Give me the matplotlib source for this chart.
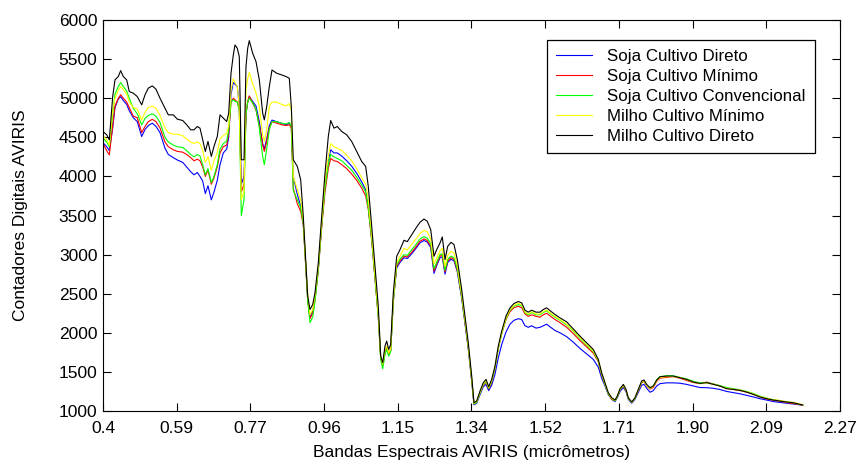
import matplotlib
matplotlib.use("Agg")
import matplotlib.pyplot as plt
import numpy as np

plt.rcParams['font.family'] = ['Liberation Sans', 'DejaVu Sans']

wavelength = [
    0.4000, 0.4094, 0.4160, 0.4246, 0.4304, 0.4388, 0.4449, 0.4515, 0.4601, 0.4667,
    0.4769, 0.4870, 0.4982, 0.5066, 0.5149, 0.5251, 0.5345, 0.5446, 0.5573, 0.5657,
    0.5784, 0.5885, 0.6022, 0.6124, 0.6225, 0.6309, 0.6393, 0.6461, 0.6530, 0.6596,
    0.6664, 0.6748, 0.6816, 0.6900, 0.6969, 0.7052, 0.7139, 0.7189, 0.7248, 0.7306,
    0.7349, 0.7408, 0.7458, 0.7509, 0.7578, 0.7628, 0.7671, 0.7712, 0.7798, 0.7882,
    0.7966, 0.8052, 0.8093, 0.8154, 0.8220, 0.8288, 0.8407, 0.8534, 0.8643, 0.8727,
    0.8778, 0.8828, 0.8930, 0.9016, 0.9082, 0.9143, 0.9194, 0.9252, 0.9321, 0.9379,
    0.9463, 0.9549, 0.9633, 0.9717, 0.9777, 0.9861, 0.9945, 1.0057, 1.0183, 1.0310,
    1.0437, 1.0564, 1.0665, 1.0731, 1.0818, 1.0901, 1.0985, 1.1046, 1.1097, 1.1155,
    1.1198, 1.1249, 1.1300, 1.1366, 1.1452, 1.1536, 1.1637, 1.1721, 1.1833, 1.1942,
    1.2043, 1.2145, 1.2228, 1.2315, 1.2398, 1.2467, 1.2551, 1.2609, 1.2678, 1.2746,
    1.2830, 1.2906, 1.2990, 1.3101, 1.3185, 1.3269, 1.3355, 1.3413, 1.3482, 1.3566,
    1.3649, 1.3718, 1.3786, 1.3863, 1.3946, 1.4030, 1.4116, 1.4225, 1.4327, 1.4428,
    1.4537, 1.4624, 1.4707, 1.4791, 1.4877, 1.4987, 1.5088, 1.5172, 1.5258, 1.5359,
    1.5469, 1.5595, 1.5765, 1.5933, 1.6103, 1.6273, 1.6440, 1.6567, 1.6653, 1.6737,
    1.6821, 1.6907, 1.6991, 1.7049, 1.7118, 1.7202, 1.7270, 1.7328, 1.7415, 1.7498,
    1.7582, 1.7668, 1.7727, 1.7795, 1.7879, 1.7963, 1.8049, 1.8133, 1.8303, 1.8470,
    1.8640, 1.8810, 1.8978, 1.9148, 1.9318, 1.9485, 1.9655, 1.9825, 1.9993, 2.0163,
    2.0333, 2.0500, 2.0670, 2.0840, 2.1008, 2.1178, 2.1348, 2.1515, 2.1685, 2.1754,
]

soja_direto = [
    4430, 4380, 4330, 4620, 4880, 4990, 5020, 4970, 4920, 4840,
    4750, 4700, 4510, 4600, 4650, 4680, 4640, 4560, 4360, 4280,
    4240, 4210, 4180, 4120, 4060, 4020, 4050, 4000, 3940, 3780,
    3880, 3700, 3800, 3950, 4150, 4300, 4350, 4500, 5050, 5200,
    5180, 5150, 4900, 3900, 4000, 4800, 4950, 5020, 4960, 4900,
    4700, 4420, 4350, 4480, 4650, 4720, 4700, 4680, 4660, 4680,
    4650, 4000, 3770, 3620, 3400, 2880, 2450, 2200, 2280, 2450,
    2820, 3380, 3900, 4200, 4340, 4300, 4300, 4260, 4200, 4130,
    4040, 3930, 3830, 3620, 3200, 2720, 2220, 1690, 1600, 1760,
    1820, 1730, 1780, 2420, 2830, 2900, 2960, 2950, 3010, 3080,
    3150, 3180, 3160, 3090, 2760, 2860, 2960, 2970, 2750, 2900,
    2940, 2920, 2780, 2440, 2120, 1790, 1380, 1080, 1100, 1210,
    1310, 1340, 1260, 1330, 1470, 1680, 1850, 2010, 2110, 2160,
    2180, 2170, 2090, 2070, 2090, 2060, 2070, 2090, 2110, 2070,
    2030, 2000, 1950, 1880, 1800, 1730, 1660, 1560, 1420, 1320,
    1210, 1150, 1120, 1170, 1250, 1300, 1250, 1150, 1100, 1150,
    1240, 1330, 1340, 1290, 1240, 1260, 1320, 1350, 1360, 1360,
    1355, 1340, 1320, 1300, 1298, 1290, 1275, 1250, 1235, 1220,
    1200, 1180, 1157, 1140, 1120, 1110, 1100, 1090, 1080, 1075,
]

soja_minimo = [
    4420, 4330, 4275, 4650, 4900, 5000, 5045, 5000, 4950, 4880,
    4770, 4750, 4560, 4640, 4700, 4730, 4700, 4620, 4440, 4380,
    4340, 4320, 4310, 4280, 4240, 4200, 4220, 4200, 4120, 4000,
    4080, 3900, 3980, 4120, 4300, 4380, 4400, 4550, 4950, 5000,
    4980, 4950, 4850, 3800, 3900, 4800, 4950, 5030, 4940, 4850,
    4650, 4400, 4320, 4450, 4620, 4700, 4680, 4660, 4650, 4660,
    4620, 3850, 3650, 3550, 3380, 2870, 2420, 2180, 2250, 2420,
    2800, 3350, 3800, 4100, 4230, 4200, 4190, 4150, 4100, 4030,
    3950, 3850, 3750, 3580, 3180, 2700, 2200, 1680, 1580, 1740,
    1800, 1720, 1770, 2400, 2850, 2920, 2980, 2970, 3030, 3100,
    3170, 3200, 3180, 3110, 2790, 2880, 2980, 2990, 2780, 2920,
    2960, 2940, 2800, 2460, 2140, 1810, 1390, 1090, 1110, 1230,
    1330, 1370, 1280, 1370, 1550, 1800, 1990, 2170, 2270, 2320,
    2340, 2320, 2240, 2210, 2230, 2210, 2200, 2230, 2250, 2210,
    2170, 2130, 2070, 1990, 1900, 1820, 1740, 1630, 1460, 1340,
    1220, 1150, 1130, 1180, 1270, 1320, 1260, 1160, 1110, 1160,
    1260, 1360, 1380, 1320, 1280, 1300, 1380, 1420, 1430, 1440,
    1420, 1390, 1365, 1350, 1370, 1345, 1320, 1290, 1275, 1262,
    1240, 1215, 1180, 1155, 1138, 1125, 1108, 1095, 1080, 1072,
]

soja_convencional = [
    4490, 4440, 4380, 4800, 5050, 5150, 5200, 5150, 5090, 5000,
    4870, 4800, 4660, 4740, 4780, 4800, 4770, 4690, 4500, 4440,
    4400, 4380, 4370, 4330, 4280, 4250, 4280, 4260, 4150, 4020,
    4100, 3920, 4000, 4150, 4350, 4420, 4450, 4600, 4950, 4980,
    4960, 4950, 4850, 3500, 3700, 4800, 4950, 5000, 4940, 4860,
    4620, 4250, 4150, 4350, 4600, 4700, 4700, 4680, 4670, 4690,
    4640, 3820, 3700, 3600, 3400, 2870, 2400, 2130, 2200, 2400,
    2800, 3380, 3850, 4150, 4280, 4250, 4230, 4200, 4140, 4080,
    3990, 3890, 3800, 3600, 3200, 2700, 2200, 1660, 1540, 1720,
    1790, 1700, 1760, 2400, 2870, 2940, 3000, 2990, 3060, 3130,
    3200, 3230, 3210, 3140, 2820, 2900, 3000, 3010, 2800, 2940,
    2980, 2960, 2820, 2470, 2150, 1820, 1400, 1090, 1110, 1230,
    1340, 1380, 1290, 1380, 1550, 1800, 1990, 2180, 2290, 2340,
    2360, 2350, 2260, 2230, 2260, 2230, 2230, 2260, 2280, 2240,
    2200, 2160, 2100, 2020, 1930, 1840, 1760, 1640, 1470, 1340,
    1220, 1160, 1130, 1180, 1270, 1330, 1270, 1160, 1110, 1160,
    1270, 1370, 1390, 1330, 1290, 1320, 1400, 1440, 1450, 1450,
    1430, 1410, 1380, 1360, 1365, 1345, 1325, 1300, 1285, 1270,
    1250, 1225, 1190, 1165, 1145, 1132, 1115, 1105, 1085, 1077,
]

milho_minimo = [
    4520, 4470, 4400, 4850, 5000, 5100, 5150, 5110, 5050, 4950,
    4880, 4860, 4720, 4820, 4880, 4900, 4870, 4780, 4620, 4560,
    4540, 4540, 4520, 4480, 4440, 4420, 4440, 4420, 4330, 4180,
    4250, 4080, 4200, 4300, 4480, 4520, 4550, 4650, 5100, 5250,
    5200, 5150, 4900, 3700, 3800, 5100, 5250, 5330, 5180, 5070,
    4900, 4520, 4450, 4600, 4900, 4950, 4950, 4920, 4900, 4930,
    4850, 4000, 3830, 3700, 3450, 2900, 2500, 2230, 2300, 2480,
    2850, 3420, 3950, 4250, 4420, 4380, 4360, 4330, 4270, 4200,
    4100, 3980, 3900, 3700, 3250, 2750, 2250, 1700, 1600, 1780,
    1830, 1740, 1800, 2450, 2900, 2980, 3080, 3060, 3130, 3200,
    3270, 3310, 3290, 3200, 2880, 2950, 3050, 3080, 2850, 2990,
    3040, 3020, 2860, 2500, 2170, 1840, 1420, 1100, 1120, 1240,
    1350, 1390, 1300, 1390, 1560, 1810, 2000, 2190, 2300, 2350,
    2380, 2360, 2270, 2240, 2270, 2240, 2240, 2270, 2290, 2250,
    2210, 2170, 2110, 2030, 1940, 1850, 1770, 1650, 1480, 1350,
    1230, 1160, 1140, 1190, 1280, 1330, 1270, 1170, 1110, 1170,
    1270, 1370, 1390, 1330, 1290, 1310, 1390, 1430, 1440, 1440,
    1430, 1400, 1370, 1350, 1360, 1340, 1320, 1290, 1280, 1265,
    1245, 1220, 1185, 1165, 1145, 1135, 1118, 1110, 1090, 1080,
]

milho_direto = [
    4574, 4532, 4468, 5021, 5234, 5277, 5353, 5277, 5234, 5085,
    5064, 5021, 4915, 5043, 5128, 5157, 5115, 5000, 4872, 4787,
    4787, 4732, 4715, 4660, 4596, 4596, 4638, 4617, 4468, 4319,
    4447, 4255, 4383, 4511, 4787, 4745, 4702, 4808, 5319, 5553,
    5681, 5638, 5532, 4213, 4213, 5404, 5638, 5736, 5574, 5468,
    5234, 4808, 4723, 4894, 5149, 5361, 5319, 5298, 5277, 5255,
    4894, 4213, 4128, 3957, 3489, 2936, 2468, 2298, 2362, 2511,
    2894, 3489, 4043, 4511, 4715, 4617, 4638, 4574, 4532, 4447,
    4319, 4191, 4128, 3872, 3362, 2851, 2340, 1702, 1617, 1830,
    1894, 1787, 1851, 2511, 2979, 3064, 3183, 3166, 3255, 3340,
    3413, 3455, 3426, 3319, 2979, 3064, 3149, 3226, 2936, 3106,
    3157, 3128, 2936, 2553, 2213, 1872, 1447, 1106, 1128, 1255,
    1362, 1404, 1311, 1404, 1574, 1830, 2021, 2213, 2319, 2375,
    2400, 2383, 2289, 2264, 2289, 2264, 2264, 2298, 2319, 2277,
    2234, 2191, 2140, 2050, 1957, 1872, 1787, 1660, 1489, 1362,
    1234, 1170, 1141, 1191, 1285, 1340, 1277, 1170, 1115, 1170,
    1277, 1383, 1396, 1340, 1298, 1319, 1396, 1438, 1447, 1447,
    1425, 1404, 1370, 1353, 1362, 1340, 1319, 1285, 1277, 1264,
    1242, 1213, 1179, 1157, 1140, 1128, 1115, 1106, 1085, 1077,
]

series_names = ['Soja Cultivo Direto', 'Soja Cultivo Mínimo', 'Soja Cultivo Convencional',
                'Milho Cultivo Mínimo', 'Milho Cultivo Direto']
series_values = [soja_direto, soja_minimo, soja_convencional, milho_minimo, milho_direto]
series_colors = ['#0000ff', '#ff0000', '#00ff00', '#ffff00', '#000000']

x_tick_labels = ['0.4', '0.59', '0.77', '0.96', '1.15', '1.34', '1.52', '1.71', '1.90', '2.09', '2.27']
y_ticks = [1000, 1500, 2000, 2500, 3000, 3500, 4000, 4500, 5000, 5500, 6000]

fig = plt.figure(figsize=(8.58, 4.61), dpi=100)
ax = fig.add_axes([103/858, 1 - 411/461, 737/858, 391/461])

for name, vals, col in zip(series_names, series_values, series_colors):
    ax.plot(wavelength, vals, color=col, linewidth=0.8, label=name)

ax.set_xlim(0.4, 2.27)
ax.set_ylim(1000, 6000)
ax.set_xticks(np.linspace(0.4, 2.27, len(x_tick_labels)))
ax.set_xticklabels(x_tick_labels)
ax.set_yticks(y_ticks)
ax.tick_params(direction='in', length=6, width=0.8, top=True, right=True,
               labelsize=12.5)
ax.tick_params(axis='x', pad=7)
ax.tick_params(axis='y', pad=4)
for s in ax.spines.values():
    s.set_linewidth(0.8)

ax.set_xlabel('Bandas Espectrais AVIRIS (micrômetros)', fontsize=12.5, labelpad=7)
ax.set_ylabel('Contadores Digitais AVIRIS', fontsize=12.5, labelpad=22)

leg = ax.legend(loc='upper right', bbox_to_anchor=(0.966, 0.949), borderaxespad=0,
                fancybox=False, framealpha=1, edgecolor='black', fontsize=12.2,
                handlelength=2.1, handletextpad=0.9, labelspacing=0.29,
                borderpad=0.55)
leg.get_frame().set_linewidth(0.9)

fig.savefig('out.png', dpi=100)
